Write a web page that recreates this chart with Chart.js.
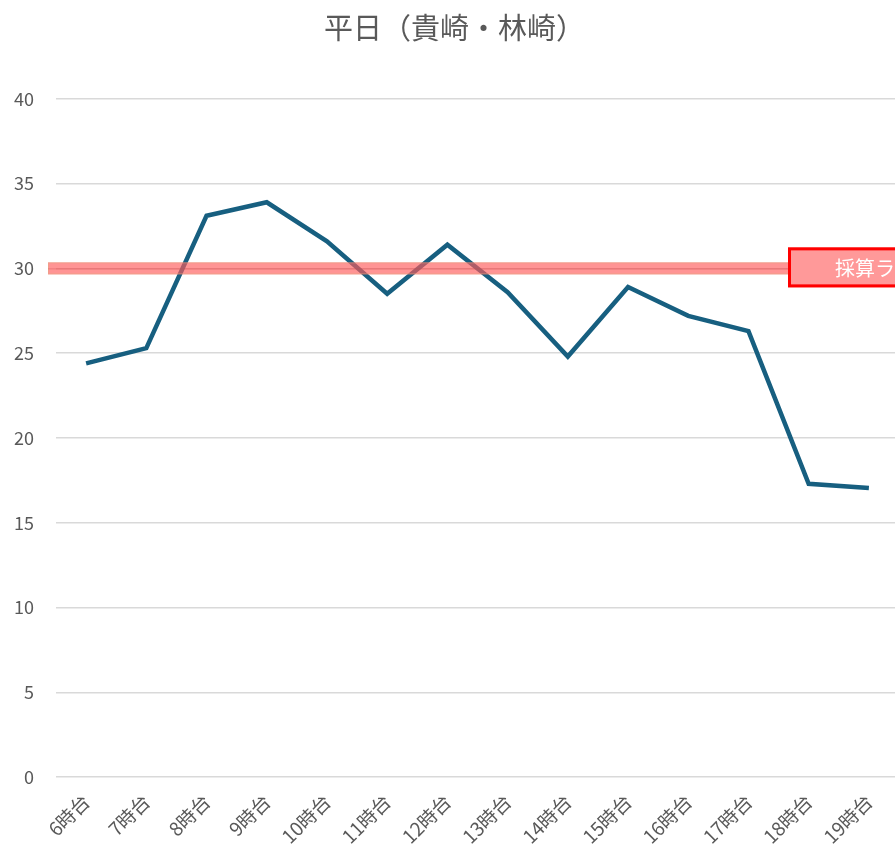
<!DOCTYPE html>
<html>
<head>
<meta charset="utf-8">
<script src="https://cdn.jsdelivr.net/npm/chart.js@4.4.1/dist/chart.umd.min.js"></script>
<style>
  html, body { margin: 0; padding: 0; background: #fff; overflow: hidden; }
  #wrap { width: 895px; height: 854px; overflow: hidden; }
</style>
</head>
<body>
<div id="wrap"><canvas id="line" width="920" height="854"></canvas></div>
<script>
// data
const labels = ['6時台', '7時台', '8時台', '9時台', '10時台', '11時台', '12時台',
                '13時台', '14時台', '15時台', '16時台', '17時台', '18時台', '19時台'];
const counts = [24.4, 25.3, 33.1, 33.9, 31.6, 28.5, 31.4, 28.6, 24.8, 28.9, 27.2, 26.3, 17.3, 17.05];
const refValue = 30;
const refLabel = '採算ライン';
const titleText = '平日（貴崎・林崎）';

const fontFam = '"Noto Sans CJK JP", "Noto Sans", sans-serif';

// red band + label box (drawn on top of the line, like the shape in the original)
const refLinePlugin = {
    id: 'refLine',
    afterDatasetsDraw(chart) {
        const ctx = chart.ctx;
        const area = chart.chartArea;
        const y = chart.scales.y.getPixelForValue(refValue);
        const boxLeft = area.right - 111;

        ctx.save();
        // band
        ctx.fillStyle = 'rgba(255, 90, 90, 0.65)';
        ctx.fillRect(area.left - 8, y - 6, boxLeft - (area.left - 8), 12);
        ctx.strokeStyle = 'rgba(225, 170, 130, 0.5)';
        ctx.lineWidth = 1;
        ctx.strokeRect(area.left - 8 + 0.5, y - 6 + 0.5, boxLeft - (area.left - 8), 11);
        ctx.strokeStyle = 'rgba(200, 70, 70, 0.35)';
        ctx.beginPath();
        ctx.moveTo(area.left - 8, y + 0.5);
        ctx.lineTo(boxLeft, y + 0.5);
        ctx.stroke();

        // label box
        ctx.fillStyle = '#ff9999';
        ctx.fillRect(boxLeft, y - 21, 140, 40);
        ctx.strokeStyle = '#ff0000';
        ctx.lineWidth = 3;
        ctx.strokeRect(boxLeft + 1.5, y - 19.5, 140, 37);
        ctx.fillStyle = '#ffffff';
        ctx.font = '20px ' + fontFam;
        ctx.textBaseline = 'middle';
        ctx.fillText(refLabel, boxLeft + 47, y);
        ctx.restore();
    }
};

document.addEventListener('DOMContentLoaded', () => {
    const ctx = document.getElementById('line');
    new Chart(ctx, {
        type: 'line',
        data: {
            labels: labels,
            datasets: [{
                label: titleText,
                data: counts,
                borderColor: '#175f80',
                borderWidth: 4.5,
                pointRadius: 0,
                tension: 0,
                fill: false
            }]
        },
        options: {
            responsive: false,
            animation: false,
            layout: { padding: { left: 10, right: 21, top: 0, bottom: 1 } },
            plugins: {
                legend: { display: false },
                tooltip: { enabled: false },
                title: {
                    display: true,
                    text: titleText,
                    color: '#595959',
                    font: { family: fontFam, size: 29, weight: 'normal' },
                    padding: { top: 11, bottom: 53 }
                }
            },
            scales: {
                x: {
                    offset: true,
                    grid: { display: false },
                    border: { display: false },
                    ticks: {
                        color: '#595959',
                        font: { family: fontFam, size: 19 },
                        maxRotation: 45,
                        minRotation: 45,
                        padding: 5
                    }
                },
                y: {
                    min: 0,
                    max: 40,
                    afterFit: (scale) => { scale.width = 46; },
                    grid: { color: '#d9d9d9', lineWidth: 1.5, drawTicks: false },
                    border: { display: false },
                    ticks: {
                        stepSize: 5,
                        color: '#595959',
                        font: { family: fontFam, size: 18 },
                        padding: 22
                    }
                }
            }
        },
        plugins: [refLinePlugin]
    });
});
</script>
</body>
</html>
